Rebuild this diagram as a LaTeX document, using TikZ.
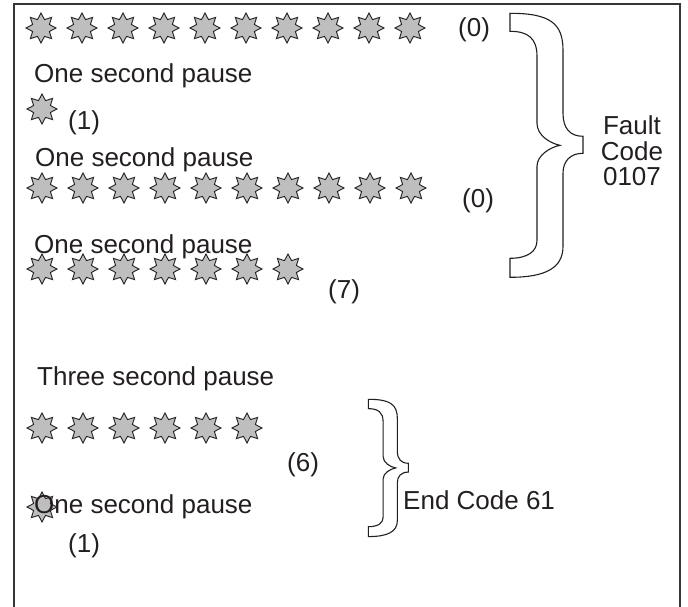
\documentclass[tikz,border=0pt]{standalone}
\usepackage{fontspec}
\setmainfont{Liberation Sans}
\usetikzlibrary{shapes.geometric}
\definecolor{ink}{HTML}{231F20}
\definecolor{starfill}{HTML}{BEBEBE}
\tikzset{
  starnode/.style={star, star points=8, star point ratio=1.65, minimum size=30pt,
    inner sep=0pt, draw=ink, line width=0.9pt, fill=starfill},
  lbl/.style={inner sep=0pt, anchor=base west, text=ink, font=\fontsize{26}{26}\selectfont},
  bracestyle/.style={draw=ink, line width=1.1pt, fill=white},
  frame/.style={draw=ink!90, line width=1.4pt}
}
\newcommand{\bracepath}{%
  (0,0) .. controls (40,0) and (53,10) .. (53,37) -- (53,100)
  .. controls (53,115) and (60,123) .. (73,123) -- (73,140)
  .. controls (60,140) and (53,148) .. (53,160) -- (53,233)
  .. controls (53,255) and (35,264) .. (0,264) -- (0,245)
  .. controls (18,245) and (27,238) .. (27,227) -- (27,153)
  .. controls (27,142) and (40,134) .. (50,132)
  .. controls (40,130) and (27,122) .. (27,110) -- (27,43)
  .. controls (27,25) and (18,18) .. (0,18) -- cycle}
\begin{document}
\begin{tikzpicture}[x=1pt,y=-1pt]
\useasboundingbox (0,0) rectangle (688,607);
% frame
\draw[frame] (14,607) -- (14,4) -- (680,4) -- (680,607);
% braces
\begin{scope}[shift={(510,13.3)}]
  \path[bracestyle] \bracepath;
\end{scope}
\begin{scope}[shift={(368.3,399.3)}, xscale=0.548, yscale=0.52]
  \path[bracestyle] \bracepath;
\end{scope}
% star rows
\foreach \i in {0,...,9} { \node[starnode] (ra-\i) at ({41+41*\i},28) {}; }
\node[starnode] (rb-0) at (42,109) {};
\foreach \i in {0,...,9} { \node[starnode] (rc-\i) at ({42+41*\i},188) {}; }
\foreach \i in {0,...,6} { \node[starnode] (rd-\i) at ({42+41*\i},269) {}; }
\foreach \i in {0,...,5} { \node[starnode] (re-\i) at ({42+41*\i},428) {}; }
\node[starnode] (rf-0) at (42,507) {};
% labels
\node[lbl] (c1) at (458,37) {(0)};
\node[lbl] (p1) at (34,83) {One second pause};
\node[lbl] (c2) at (68,130) {(1)};
\node[lbl] (p2) at (35,167) {One second pause};
\node[lbl] (c3) at (462,207) {(0)};
\node[lbl] (p3) at (34,253) {One second pause};
\node[lbl] (c4) at (328,298) {(7)};
\node[lbl] (p4) at (37,385) {Three second pause};
\node[lbl] (c5) at (287,471) {(6)};
\node[lbl] (p5) at (34,513) {One second pause};
\node[lbl] (c6) at (68,552) {(1)};
\node[lbl] (ec) at (403,509) {End Code 61};
\node[inner sep=0pt, text=ink, align=center, font=\fontsize{26}{25.5}\selectfont] (fc) at (632,151) {Fault\\Code\\0107};
\end{tikzpicture}
\end{document}
